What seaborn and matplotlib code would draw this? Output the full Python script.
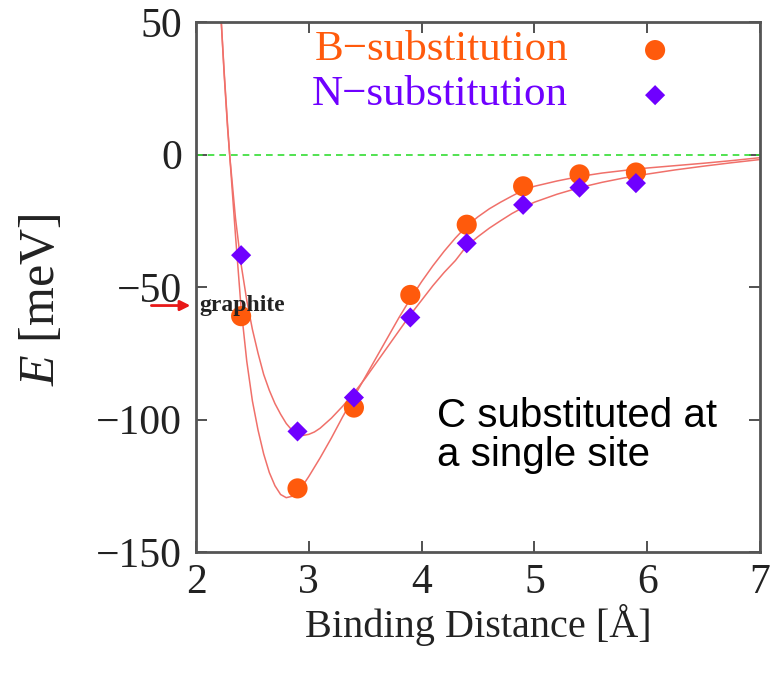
import matplotlib
matplotlib.use("Agg")
import matplotlib.pyplot as plt
import seaborn as sns
import pandas as pd

# ---- data ----
dist = [2.4, 2.9, 3.4, 3.9, 4.4, 4.9, 5.4, 5.9]
b_energy = [-61, -126, -95.5, -53, -26.5, -12, -7.5, -6.8]
n_energy = [-38, -104.5, -91.7, -61.5, -33.5, -19, -12.5, -10.8]

# fitted curves
b_fit_x = [2.20, 2.22, 2.25, 2.28, 2.30, 2.35, 2.40, 2.45, 2.50, 2.55, 2.60, 2.65, 2.70,
           2.75, 2.80, 2.85, 2.90, 2.95, 3.00, 3.10, 3.20, 3.30, 3.40, 3.50, 3.60,
           3.70, 3.80, 3.90, 4.00, 4.10, 4.20, 4.30, 4.40, 4.50, 4.60, 4.70, 4.80,
           4.90, 5.00, 5.20, 5.40, 5.60, 5.80, 6.00, 6.25, 6.50, 6.75, 7.00]
b_fit_y = [68, 53, 31, 11, -1, -30.5, -58, -78, -93, -104, -113, -120, -125,
           -128.3, -129.5, -129, -127.2, -124.7, -121.5, -114.5, -107, -99, -91.5, -84, -76.5,
           -69, -61.5, -54.5, -48, -42, -36.5, -31.5, -27, -23.5, -20.5, -18, -15.7,
           -13.5, -12, -10, -8.3, -7, -6, -5.1, -4.2, -3.3, -2.3, -1.2]
n_fit_x = [2.20, 2.22, 2.25, 2.28, 2.30, 2.35, 2.40, 2.45, 2.50, 2.55, 2.60, 2.65, 2.70,
           2.75, 2.80, 2.85, 2.90, 2.95, 3.00, 3.05, 3.10, 3.20, 3.30, 3.40, 3.50, 3.60,
           3.70, 3.80, 3.90, 4.00, 4.10, 4.20, 4.30, 4.40, 4.50, 4.60, 4.70, 4.80,
           4.90, 5.00, 5.20, 5.40, 5.60, 5.80, 6.00, 6.25, 6.50, 6.75, 7.00]
n_fit_y = [68, 53, 30, 10, -1, -24, -41.5, -55, -66, -75, -83, -89, -94,
           -98, -101.5, -104, -105.5, -106, -105.6, -104.7, -103.3, -99.5, -95, -90, -84.5, -78.5,
           -72.5, -66.5, -60.5, -55, -49.5, -44.5, -40, -34.5, -31, -27.8, -25, -22.3,
           -20, -18, -15, -12.5, -10.5, -8.8, -7.4, -5.8, -4.4, -3.1, -1.9]

x_ticks = [2, 3, 4, 5, 6, 7]
y_ticks = [50, 0, -50, -100, -150]

b_color = "#ff5a0c"
n_color = "#6f00ff"
fit_color = "#f0706a"

sns.set_theme(style="ticks")
plt.rcParams["font.family"] = ["Liberation Serif", "DejaVu Serif"]
plt.rcParams["mathtext.fontset"] = "custom"
plt.rcParams["mathtext.it"] = "Liberation Serif:italic"
plt.rcParams["mathtext.rm"] = "Liberation Serif"

fig = plt.figure(figsize=(7.74, 6.74), dpi=100)
ax = fig.add_axes([196 / 774, 1 - 552 / 674, (760 - 196) / 774, (552 - 22) / 674])

ax.axhline(0, color="#33dd33", lw=1.2, ls=(0, (4, 3)), zorder=1)

fit_b = pd.DataFrame({"x": b_fit_x, "y": b_fit_y})
fit_n = pd.DataFrame({"x": n_fit_x, "y": n_fit_y})
sns.lineplot(data=fit_b, x="x", y="y", ax=ax, color=fit_color, lw=1.1, sort=False,
             estimator=None, zorder=2)
sns.lineplot(data=fit_n, x="x", y="y", ax=ax, color=fit_color, lw=1.1, sort=False,
             estimator=None, zorder=2)

pts_b = pd.DataFrame({"x": dist, "y": b_energy})
pts_n = pd.DataFrame({"x": dist, "y": n_energy})
sns.scatterplot(data=pts_b, x="x", y="y", ax=ax, marker="o", s=210, color=b_color,
                edgecolor="none", zorder=3)
sns.scatterplot(data=pts_n, x="x", y="y", ax=ax, marker="D", s=105, color=n_color,
                edgecolor="none", zorder=4)

ax.set_xlim(2, 7)
ax.set_ylim(-150, 50)
ax.set_xticks(x_ticks)
ax.set_yticks(y_ticks)
ax.tick_params(direction="in", length=8, width=1.2, color="#333333", labelsize=30,
               top=True, right=True, labelcolor="#222222")
ax.tick_params(axis="x", pad=8)
ax.tick_params(axis="y", pad=10)
for s in ax.spines.values():
    s.set_color("#555555")
    s.set_linewidth(2)

ax.set_xlabel("Binding Distance [Å]", fontsize=29, color="#222222", va="center")
ax.xaxis.set_label_coords(0.5, (552 - 625) / 530)
ax.set_ylabel(r"$E$ [meV]", fontsize=36, color="#222222", va="center")
ax.yaxis.set_label_coords((42 - 196) / 564, 1 - (300 - 22) / 530)

# legend drawn as gnuplot-like key
ax.text(0.66, 0.947, "B\u2212substitution", transform=ax.transAxes, ha="right",
        va="center", fontsize=31, color=b_color)
ax.text(0.66, 0.862, "N\u2212substitution", transform=ax.transAxes, ha="right",
        va="center", fontsize=31, color=n_color)
ax.scatter([0.814], [0.947], transform=ax.transAxes, marker="o", s=210, color=b_color,
           edgecolor="none", clip_on=False)
ax.scatter([0.814], [0.862], transform=ax.transAxes, marker="D", s=105, color=n_color,
           edgecolor="none", clip_on=False)

# graphite marker
ax.annotate("", xy=(1.975, -57), xytext=(1.58, -57), xycoords="data",
            arrowprops=dict(arrowstyle="-|>", color="#e81818", lw=2, mutation_scale=15),
            annotation_clip=False)
ax.text(2.03, -57, "graphite", fontsize=17, fontweight="bold", color="#222222",
        ha="left", va="center")

ax.text(4.14, -106, "C substituted at\na single site", fontsize=29,
        family=["Liberation Sans", "DejaVu Sans"], color="black", ha="left",
        va="center", linespacing=1.05)

fig.savefig("out.png", dpi=100)
